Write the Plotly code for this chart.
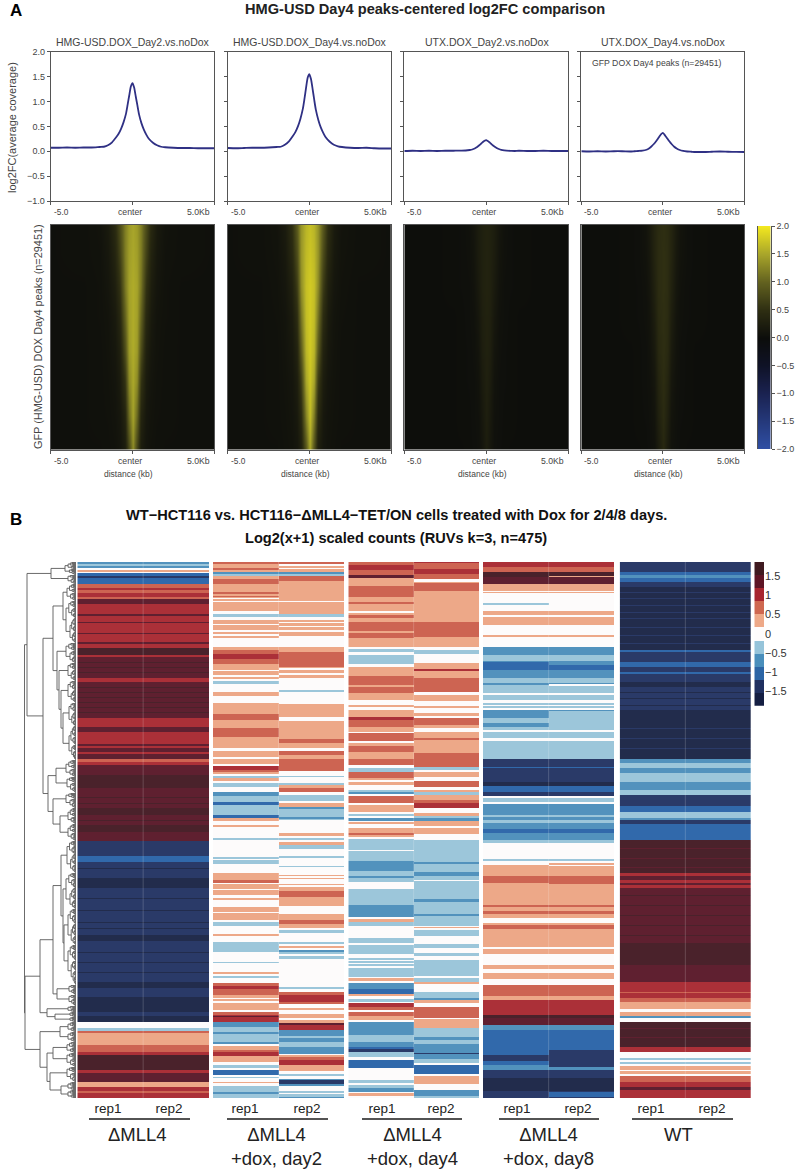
import numpy as np
import plotly.graph_objects as go

W, H = 800, 1172
FONT = "Liberation Sans"
GREY = "#444444"

# ---------- panel A: average profiles ----------
PROFILE_TITLES = ["HMG-USD.DOX_Day2.vs.noDox", "HMG-USD.DOX_Day4.vs.noDox",
                  "UTX.DOX_Day2.vs.noDox", "UTX.DOX_Day4.vs.noDox"]
DISTANCE = [-5, -4.5, -4, -3.5, -3, -2.5, -2, -1.75, -1.5, -1.25, -1, -.85, -.7, -.55, -.4, -.3, -.2, -.1, 0,
            .1, .2, .3, .4, .55, .7, .85, 1, 1.25, 1.5, 1.75, 2, 2.5, 3, 3.5, 4, 4.5, 5]
HMG_DAY2 = [.07, .07, .075, .07, .075, .075, .085, .09, .12, .18, .28, .35, .45, .58, .75, .93, 1.12, 1.3, 1.37,
            1.28, 1.1, .92, .74, .56, .43, .33, .25, .17, .12, .09, .08, .07, .065, .065, .06, .06, .06]
HMG_DAY4 = [.065, .06, .065, .07, .07, .075, .085, .09, .13, .2, .31, .39, .5, .65, .85, 1.05, 1.28, 1.48, 1.55,
            1.45, 1.25, 1.03, .83, .63, .48, .37, .28, .19, .13, .1, .085, .07, .065, .07, .06, .055, .055]
UTX_DAY2 = [.005, .01, .005, .01, .005, .01, .01, .012, .012, .015, .025, .035, .055, .085, .125, .155, .185, .21, .225,
            .205, .18, .15, .12, .085, .055, .035, .022, .012, .008, .005, .01, .005, .005, .01, .005, .005, .005]
UTX_DAY4 = [0, -.005, 0, -.005, 0, 0, -.005, 0, .005, .012, .03, .055, .095, .145, .205, .25, .3, .345, .37,
            .335, .29, .245, .2, .14, .09, .055, .03, .005, -.005, -.01, -.015, -.015, -.01, -.005, -.01, -.012, -.015]
PROFILES = [HMG_DAY2, HMG_DAY4, UTX_DAY2, UTX_DAY4]

# ---------- panel A: density heatmaps (rows: peak rank, columns: distance) ----------
DENS_X = [-5, -3, -2, -1.5, -1.1, -.8, -.5, -.25, 0, .25, .5, .8, 1.1, 1.5, 2, 3, 5]
DENS_RANK = [0, 4000, 8000, 12000, 16500, 20500, 25000, 29451]
DENS_HMG2 = [
 [.05, .06, .09, .2, .45, .8, 1.2, 1.42, 1.5, 1.42, 1.2, .8, .42, .2, .09, .06, .05],
 [.05, .06, .08, .16, .36, .7, 1.2, 1.45, 1.52, 1.45, 1.2, .7, .34, .16, .08, .06, .05],
 [.05, .05, .07, .13, .27, .55, 1.15, 1.48, 1.55, 1.48, 1.15, .55, .26, .13, .07, .05, .05],
 [.04, .05, .07, .10, .2, .42, 1.0, 1.46, 1.55, 1.46, 1.0, .42, .2, .10, .07, .05, .04],
 [.04, .05, .06, .09, .15, .3, .8, 1.42, 1.55, 1.42, .8, .3, .15, .09, .06, .05, .04],
 [.04, .05, .06, .08, .12, .22, .56, 1.3, 1.52, 1.3, .56, .22, .12, .08, .06, .05, .04],
 [.04, .05, .06, .07, .10, .16, .36, 1.08, 1.48, 1.05, .36, .16, .10, .07, .06, .05, .04],
 [.04, .05, .05, .06, .08, .12, .24, .75, 1.3, .72, .24, .12, .08, .06, .05, .05, .04]]
DENS_HMG4 = [
 [.05, .06, .10, .22, .5, .92, 1.38, 1.62, 1.7, 1.62, 1.38, .92, .48, .22, .10, .06, .05],
 [.05, .06, .09, .18, .42, .8, 1.38, 1.66, 1.74, 1.66, 1.38, .8, .4, .18, .09, .06, .05],
 [.05, .05, .08, .14, .3, .65, 1.32, 1.7, 1.78, 1.7, 1.32, .65, .3, .14, .08, .05, .05],
 [.04, .05, .07, .11, .22, .48, 1.15, 1.68, 1.78, 1.68, 1.15, .48, .22, .11, .07, .05, .04],
 [.04, .05, .06, .1, .17, .34, .92, 1.62, 1.78, 1.62, .92, .34, .17, .1, .06, .05, .04],
 [.04, .05, .06, .09, .13, .25, .64, 1.5, 1.75, 1.5, .64, .25, .13, .09, .06, .05, .04],
 [.04, .05, .06, .08, .11, .18, .42, 1.24, 1.7, 1.2, .42, .18, .11, .08, .06, .05, .04],
 [.04, .05, .05, .07, .09, .14, .28, .88, 1.5, .85, .28, .14, .09, .07, .05, .05, .04]]
DENS_UTX2 = [
 [.02, .02, .03, .04, .07, .13, .24, .3, .32, .3, .24, .13, .07, .04, .03, .02, .02],
 [.02, .02, .03, .04, .06, .11, .23, .3, .33, .3, .23, .11, .06, .04, .03, .02, .02],
 [.02, .02, .03, .04, .05, .09, .2, .3, .33, .3, .2, .09, .05, .04, .03, .02, .02],
 [.01, .02, .02, .03, .05, .07, .16, .28, .32, .28, .16, .07, .05, .03, .02, .02, .01],
 [.01, .02, .02, .03, .04, .06, .12, .26, .31, .26, .12, .06, .04, .03, .02, .02, .01],
 [.01, .02, .02, .03, .04, .05, .09, .22, .3, .22, .09, .05, .04, .03, .02, .02, .01],
 [.01, .02, .02, .03, .03, .05, .07, .18, .28, .18, .07, .05, .03, .03, .02, .02, .01],
 [.01, .01, .02, .02, .03, .04, .06, .14, .25, .14, .06, .04, .03, .02, .02, .01, .01]]
DENS_UTX4 = [
 [.02, .02, .03, .05, .1, .2, .36, .46, .5, .46, .36, .2, .1, .05, .03, .02, .02],
 [.02, .02, .03, .05, .09, .17, .35, .47, .52, .47, .35, .17, .09, .05, .03, .02, .02],
 [.02, .02, .03, .04, .07, .14, .31, .47, .52, .47, .31, .14, .07, .04, .03, .02, .02],
 [.01, .02, .03, .04, .06, .11, .26, .45, .51, .45, .26, .11, .06, .04, .03, .02, .01],
 [.01, .02, .02, .03, .05, .09, .2, .42, .5, .42, .2, .09, .05, .03, .02, .02, .01],
 [.01, .02, .02, .03, .05, .07, .15, .36, .48, .36, .15, .07, .05, .03, .02, .02, .01],
 [.01, .02, .02, .03, .04, .06, .11, .3, .45, .3, .11, .06, .04, .03, .02, .02, .01],
 [.01, .01, .02, .02, .03, .05, .08, .22, .4, .22, .08, .05, .03, .02, .02, .01, .01]]
DENSITIES = [DENS_HMG2, DENS_HMG4, DENS_UTX2, DENS_UTX4]
DENS_KEY_TICKS = [-2, -1.5, -1, -.5, 0, .5, 1, 1.5, 2]
DENS_KEY_TEXT = ["−2.0", "−1.5", "−1.0", "−0.5", "0.0", "0.5", "1.0", "1.5", "2.0"]

# ---------- panel B: scaled counts, one (level, row end) run list per column ----------
LEVEL_STEP = 0.34          # one colour bin of the key, in scaled-count units
RUN_TOP = 21               # run ends are read in thirds of a row
L = 810                    # lower half of the heat map starts here
N_ROWS = 536

P1 = [(-2,27),(-1,33),(-2,40),(0,45),(1,50),(0,53),(-3,64),(-4,70),(-3,88),(2,100),(3,106),(2,113),(3,125),(2,131),
      (4,148),(3,178),(4,184),(3,262),(4,268),(3,280),(5,300),(3,306),(4,368),(3,380),(4,490),(3,516),(4,530),(3,566),
      (4,572),(3,580),(4,592),(3,598),(4,612),(2,622),(3,630),(4,660),(5,700),(4,760),(5,780),(4,L),(5,L+20),(4,L+48),
      (-4,L+92),(-3,L+110),(-4,L+160),(-5,L+190),(-4,L+290),(-5,L+295),(-4,L+330),(-5,L+348),(-4,L+470),(-5,L+490),
      (-4,L+515),(-5,L+560),(-4,L+572),(-5,L+590),(0,L+610),(-1,L+617),(2,L+625),(1,L+660),(2,L+680),(3,L+690),
      (5,L+735),(3,L+745),(4,L+770),(1,L+785),(3,L+797),(2,L+803),(3,L+820)]
# single dark or lighter rows inside the long blocks: (level, first, last)
P1_THIN_ROWS = [(5,320,323),(5,335,338),(5,350,353),(5,395,398),(5,410,413),(5,425,428),(5,440,443),(5,455,458),(5,470,473),
                (4,200,203),(4,235,238),(-5,L+130,L+133),(-5,L+220,L+223),(-5,L+255,L+258),(-5,L+310,L+313),(-5,L+380,L+383),
                (-5,L+410,L+413),(-5,L+440,L+443),(5,670,673),(5,690,693),(5,725,728),(5,745,748),(5,795,798)]

P2_REP1 = [(2,27),(1,40),(2,46),(1,52),(-2,56),(-1,64),(1,72),(2,88),(1,112),(2,118),(1,122),(2,127),(1,130),(0,133),
      (1,138),(0,142),(1,168),(0,176),(-1,185),(0,195),(1,208),(0,210),(1,224),(0,230),(1,236),(0,244),(1,250),(0,276),
      (1,284),(2,296),(3,312),(2,326),(1,345),(0,348),(1,360),(0,365),(1,372),(0,378),(-1,386),(0,410),(1,424),(0,445),
      (1,478),(2,496),(1,520),(2,545),(1,580),(0,588),(1,605),(0,612),(1,626),(0,632),(3,644),(2,650),(1,656),(0,662),
      (-1,668),(1,678),(0,683),(-1,695),(0,712),(-2,722),(-1,740),(-3,750),(-1,780),(-3,790),(1,798),(0,810),(1,L+6),
      (0,L+40),(-1,L+46),(0,L+96),(-1,L+102),(0,L+104),(-1,L+118),(0,L+145),(1,L+164),(2,L+175),(0,L+178),(1,L+192),
      (0,L+195),(1,L+210),(0,L+220),(1,L+225),(0,L+245),(1,L+260),(0,L+265),(1,L+285),(0,L+290),(-1,L+302),(0,L+328),
      (1,L+332),(0,L+350),(-1,L+380),(0,L+410),(-1,L+415),(0,L+440),(1,L+446),(0,L+452),(-1,L+458),(0,L+474),(2,L+482),
      (3,L+492),(2,L+510),(1,L+518),(0,L+522),(1,L+528),(0,L+535),(1,L+556),(0,L+562),(2,L+570),(3,L+574),(4,L+577),
      (3,L+590),(-2,L+605),(-1,L+622),(-2,L+628),(-1,L+650),(-2,L+656),(0,L+664),(1,L+675),(2,L+682),(3,L+692),(1,L+712),
      (0,L+720),(-1,L+728),(0,L+736),(-3,L+750),(0,L+756),(-1,L+760),(0,L+770),(1,L+774),(0,L+782),(-1,L+800),(-2,L+808),
      (-1,L+820)]

P2_REP2 = [(2,27),(0,33),(1,38),(0,42),(1,50),(-2,56),(-1,64),(2,78),(1,137),(0,142),(1,178),(-1,186),(0,195),(1,200),
      (0,205),(1,212),(0,216),(1,226),(0,230),(1,242),(0,276),(1,290),(2,335),(1,340),(0,345),(1,355),(0,360),(1,368),
      (0,404),(-1,410),(0,448),(1,486),(0,498),(1,552),(2,565),(1,580),(0,587),(2,600),(1,612),(2,648),(0,662),(-1,666),
      (0,684),(-1,690),(1,698),(2,710),(0,720),(-1,738),(0,745),(1,755),(-2,762),(-1,785),(-2,792),(-1,795),(0,835),(1,840),
      (0,L+4),(1,L+8),(0,L+12),(-1,L+20),(0,L+25),(1,L+35),(-1,L+45),(0,L+68),(-1,L+74),(0,L+96),(-1,L+100),(0,L+124),
      (1,L+128),(0,L+132),(1,L+136),(0,L+150),(1,L+155),(0,L+160),(1,L+172),(2,L+190),(1,L+218),(0,L+242),(1,L+260),
      (2,L+270),(1,L+284),(0,L+290),(-1,L+298),(0,L+325),(-1,L+332),(0,L+338),(1,L+342),(0,L+348),(-2,L+356),(-1,L+362),
      (0,L+366),(-1,L+375),(0,L+460),(-1,L+466),(0,L+474),(2,L+484),(3,L+504),(2,L+510),(0,L+524),(1,L+530),(0,L+542),
      (1,L+552),(0,L+558),(1,L+568),(4,L+575),(3,L+590),(-2,L+606),(-1,L+612),(-2,L+625),(-1,L+640),(-2,L+660),(0,L+664),
      (1,L+670),(2,L+680),(3,L+695),(1,L+712),(0,L+720),(-1,L+728),(0,L+736),(-2,L+740),(-4,L+750),(-2,L+756),(0,L+772),
      (-1,L+778),(0,L+782),(-1,L+790),(-2,L+820)]

P3_REP1 = [(2,30),(3,45),(2,60),(4,68),(1,92),(2,125),(1,140),(2,148),(1,168),(0,174),(1,180),(2,188),(1,200),(2,228),
      (1,234),(2,248),(1,275),(0,282),(-1,290),(0,300),(-1,328),(0,336),(1,362),(2,390),(1,395),(2,415),(1,435),(0,450),
      (1,456),(0,466),(1,485),(3,495),(2,515),(1,530),(0,535),(2,558),(0,565),(1,572),(2,590),(1,612),(2,630),(0,640),
      (-1,650),(2,668),(1,676),(0,680),(1,690),(0,706),(-1,712),(-2,716),(0,722),(2,745),(0,750),(1,772),(0,778),(-1,784),
      (0,790),(-2,798),(0,802),(1,808),(0,L+10),(1,L+24),(2,L+30),(1,L+35),(0,L+42),(-1,L+74),(0,L+78),(-1,L+108),(-2,L+138),
      (-1,L+152),(-2,L+158),(-1,L+170),(0,L+192),(-1,L+240),(-2,L+275),(0,L+282),(1,L+290),(-1,L+304),(0,L+338),(-1,L+354),
      (0,L+360),(-1,L+388),(0,L+398),(-1,L+404),(0,L+408),(-1,L+414),(0,L+418),(-1,L+424),(0,L+430),(-1,L+455),(0,L+460),
      (1,L+468),(0,L+474),(-2,L+492),(-3,L+508),(1,L+514),(0,L+522),(-1,L+530),(0,L+535),(3,L+545),(2,L+555),(0,L+560),
      (2,L+572),(1,L+585),(0,L+590),(-2,L+630),(-1,L+650),(-2,L+665),(-3,L+672),(-4,L+680),(-1,L+695),(0,L+705),(-3,L+730),
      (0,L+766),(-1,L+775),(0,L+780),(-1,L+790),(-2,L+800),(0,L+805),(1,L+812),(0,L+820)]

P3_REP2 = [(3,25),(2,42),(3,58),(2,72),(0,80),(1,85),(2,108),(1,200),(2,245),(1,275),(0,285),(-1,298),(0,324),(1,342),
      (3,348),(1,368),(2,412),(0,420),(1,438),(0,452),(1,458),(0,475),(1,482),(0,490),(2,510),(1,520),(0,530),(1,550),(2,556),
      (1,595),(2,635),(-1,645),(0,650),(1,665),(0,678),(2,695),(0,705),(1,712),(-1,720),(1,735),(2,745),(3,760),(0,774),
      (1,782),(-1,790),(-2,798),(1,812),(0,820),(1,832),(0,L+4),(1,L+8),(0,L+28),(-1,L+92),(-2,L+98),(-1,L+124),(-2,L+135),
      (-1,L+148),(0,L+150),(-1,L+205),(-2,L+212),(-1,L+248),(-2,L+254),(-1,L+284),(0,L+288),(1,L+292),(0,L+298),(-1,L+316),
      (0,L+338),(-1,L+350),(0,L+365),(-1,L+375),(0,L+388),(-1,L+436),(0,L+442),(-1,L+454),(1,L+458),(0,L+484),(-1,L+500),
      (-2,L+508),(1,L+516),(0,L+528),(2,L+560),(0,L+565),(1,L+590),(-1,L+618),(-2,L+626),(-1,L+640),(-2,L+665),(-4,L+670),
      (-2,L+685),(-1,L+697),(0,L+703),(-3,L+730),(0,L+736),(1,L+758),(0,L+776),(-2,L+795),(-1,L+812),(1,L+820)]

P4_REP1 = [(3,36),(2,52),(5,65),(4,88),(1,107),(0,110),(1,114),(0,143),(-1,150),(0,168),(1,180),(0,186),(1,203),(0,205),
      (1,211),(0,240),(1,246),(0,275),(-2,300),(-1,318),(-2,322),(-3,345),(-2,370),(-1,385),(-2,390),(-1,414),(0,420),
      (-1,435),(0,445),(-1,450),(0,453),(-1,460),(0,466),(-2,490),(-1,505),(-2,515),(-1,525),(0,530),(-1,550),(0,558),
      (-1,612),(-4,635),(-3,640),(-4,680),(-5,692),(-3,710),(-4,722),(0,728),(-1,742),(0,748),(-2,780),(-1,785),(-2,795),
      (-1,805),(-2,822),(-3,827),(-2,L+8),(-3,L+15),(-2,L+35),(-1,L+46),(0,L+92),(-1,L+99),(0,L+110),(1,L+145),(2,L+165),
      (1,L+230),(2,L+238),(1,L+248),(2,L+258),(1,L+270),(0,L+284),(1,L+292),(2,L+302),(1,L+358),(0,L+364),(1,L+378),(0,L+410),
      (1,L+422),(0,L+434),(1,L+453),(0,L+472),(2,L+505),(1,L+515),(3,L+560),(5,L+570),(4,L+590),(-2,L+605),(-3,L+680),
      (-4,L+698),(-3,L+712),(-2,L+725),(-4,L+750),(-5,L+790),(-4,L+820)]
# rep2 follows rep1 except for these (level, first, last) stretches
P4_REP2_CHANGES = [(1,62,66),(0,143,150),(0,386,392),(-1,468,490),(-2,322,330),(-1,505,525),(1,L+115,L+120),(0,L+120,L+124),
                   (2,L+170,L+176),(-4,L+675,L+725),(-3,L+800,L+815)]

P5 = [(-4,52),(-3,60),(-2,68),(-3,82),(-4,96),(-5,285),(-3,292),(-4,320),(-3,335),(-4,350),(-3,357),(-4,380),(-5,395),
      (-4,465),(-5,612),(-2,625),(-1,640),(-2,655),(-1,680),(-2,705),(-1,720),(-4,752),(-3,772),(-1,790),(-2,796),(-4,808),
      (-3,L+45),(5,L+145),(3,L+152),(4,L+165),(3,L+175),(4,L+180),(3,L+188),(4,L+355),(5,L+420),(4,L+472),(3,L+500),(2,L+505),
      (3,L+518),(2,L+532),(1,L+552),(0,L+560),(1,L+572),(-2,L+580),(0,L+590),(5,L+665),(3,L+682),(0,L+700),(-1,L+706),(0,L+710),
      (-1,L+716),(0,L+722),(1,L+735),(0,L+738),(1,L+747),(0,L+753),(2,L+770),(3,L+785),(4,L+795),(3,L+820)]
P5_THIN_ROWS = [(-4,110,113),(-4,130,133),(-4,150,153),(-4,170,173),(-4,190,193),(-4,215,218),(-4,240,243),(-4,265,268),
                (-5,410,413),(-5,430,433),(-5,450,453),(-4,520,523),(-4,550,553),(-4,580,583),
                (4,L+70,L+73),(4,L+100,L+103),(4,L+125,L+128),(5,L+210,L+213),(5,L+240,L+243),(5,L+270,L+273),
                (5,L+300,L+303),(5,L+330,L+333),(4,L+610,L+613),(4,L+635,L+638)]

GROUP_LABELS = ["ΔMLL4", "ΔMLL4<br>+dox, day2", "ΔMLL4<br>+dox, day4", "ΔMLL4<br>+dox, day8", "WT"]
REP_LABELS = ["rep1", "rep2"]

# merge tree of the rows: (height, child, child) or a tight cluster (height, rows)
T1 = (25, (11, 13), (8, 9))
R1 = (13, (9, 17), (10, 42))
R2 = (19, (10, 20), (17, (8, 18), (15, (8, 22), (13, (7, 23), (7, 34)))))
D1 = (20, (10, 17), (9, 16))
D2 = (23, (10, 15), (16, (8, 16), (8, 17)))
NV = (15, (9, 32), (13, (10, 36), (12, (8, 36), (8, 40))))
N2 = (19, (7, 10), (7, 11))
N3 = (29, (8, 6), (21, (6, 5), (6, 5)))
B1 = (16, (8, 10), (8, 10))
B2 = (29, (23, (9, 11), (9, 14)), (26, (9, 15), (15, (8, 8), (8, 8))))
TREE = (51.5, (49, T1, (33, (23, R1, R2), (28, D1, D2))),
        (51, (36, (23, NV, N2), N3), (36, B1, B2)))

# ---------- helpers ----------
def xdom(a, b):
    return [a / W, b / W]

def ydom(t, b):
    return [1 - b / H, 1 - t / H]

def column(runs, changes=()):
    vals, start = [], RUN_TOP
    for lvl, end in runs:
        vals += [lvl] * (end - start)
        start = end
    arr = np.array(vals, dtype=float)
    for lvl, a, b in changes:
        arr[a - RUN_TOP:b - RUN_TOP] = lvl
    arr = arr[1::3][:N_ROWS]
    if len(arr) < N_ROWS:
        arr = np.concatenate([arr, np.full(N_ROWS - len(arr), arr[-1])])
    return arr * LEVEL_STEP

def size(node):
    return node[1] if len(node) == 2 else size(node[1]) + size(node[2])

def tree_lines(node, start, xs, ys):
    """Returns (row position, height) of a node and collects its bracket."""
    if len(node) == 2:
        h, n = node
        if n <= 1:
            return start + 0.5, 0.0
        cut = max(1, int(n * (0.42 if int(start) % 2 else 0.58)))
        children = [(h * 0.72, cut), (h * 0.6, n - cut)]
        if n <= 2:
            children = [(0, 1), (0, 1)]
    else:
        h, a, b = node
        children = [a, b]
    pos, off = [], start
    for c in children:
        pos.append(tree_lines(c, off, xs, ys))
        off += size(c)
    xs += [pos[0][1], h, h, pos[1][1], None]
    ys += [pos[0][0], pos[0][0], pos[1][0], pos[1][0], None]
    return (pos[0][0] + pos[1][0]) / 2, h

fig = go.Figure()
layout = {}
annots = []
shapes = []

def txt(x, y, text, size_, color=GREY, bold=False, anchor="center", angle=0):
    annots.append(dict(x=x / W, y=1 - y / H, xref="paper", yref="paper", text=f"<b>{text}</b>" if bold else text,
                       showarrow=False, xanchor=anchor, yanchor="middle", textangle=angle,
                       font=dict(family=FONT, size=size_, color=color)))

PANEL_X = [(50.7, 214.3), (227.7, 391), (404.3, 568), (581.3, 744.3)]
FRAME = "#555555"
DENS_SCALE = [[0, "#2f4fa5"], [0.25, "#1a2250"], [0.375, "#0f1226"], [0.5, "#0c0d0b"], [0.625, "#2e2e12"],
              [0.75, "#62611f"], [0.875, "#a8a52a"], [1, "#f3e81f"]]

for i, (xa, xb) in enumerate(PANEL_X):
    k = i + 1
    fig.add_trace(go.Scatter(x=DISTANCE, y=PROFILES[i], mode="lines", showlegend=False, hoverinfo="skip",
                             line=dict(color="#2f3084", width=1.8, shape="spline", smoothing=0.6),
                             xaxis=f"x{k}", yaxis=f"y{k}"))
    layout[f"xaxis{k}"] = dict(domain=xdom(xa, xb), range=[-5, 5], tickvals=[-5, 0, 5], showticklabels=False, ticks="outside",
                               ticklen=3, tickcolor=FRAME, linecolor=FRAME, linewidth=1, mirror=True, showgrid=False, zeroline=False,
                               anchor=f"y{k}")
    layout[f"yaxis{k}"] = dict(domain=ydom(51.7, 201), range=[-1, 2], tickvals=[-1, -.5, 0, .5, 1, 1.5, 2],
                               ticktext=["−1.0", "−0.5", "0.0", "0.5", "1.0", "1.5", "2.0"],
                               showticklabels=(i == 0), ticks="outside", ticklen=3, tickcolor=FRAME, linecolor=FRAME, linewidth=1,
                               mirror=True, showgrid=False, zeroline=False, anchor=f"x{k}",
                               tickfont=dict(family=FONT, size=9, color=GREY))
    k2 = i + 5
    fig.add_trace(go.Heatmap(x=DENS_X, y=DENS_RANK, z=DENSITIES[i], coloraxis="coloraxis", zsmooth="best", hoverinfo="skip",
                             xaxis=f"x{k2}", yaxis=f"y{k2}"))
    layout[f"xaxis{k2}"] = dict(domain=xdom(xa, xb), range=[-5, 5], tickvals=[-5, 0, 5], showticklabels=False, ticks="outside",
                                ticklen=3, tickcolor=FRAME, linecolor=FRAME, linewidth=1, mirror=True, showgrid=False, zeroline=False,
                                anchor=f"y{k2}")
    layout[f"yaxis{k2}"] = dict(domain=ydom(225, 449.5), range=[29451, 0], showticklabels=False, ticks="", linecolor=FRAME, linewidth=1,
                                mirror=True, showgrid=False, zeroline=False, anchor=f"x{k2}")
    txt((xa + xb) / 2 + 0.5, 42, PROFILE_TITLES[i], 10.5, GREY)
    for y_lab in (212, 461):
        txt(xa + 0.8, y_lab, "-5.0", 8.3, GREY, anchor="left")
        txt((xa + xb) / 2 - 2.5, y_lab, "center", 8.7, GREY)
        txt(xb - 2.5, y_lab, "5.0Kb", 8.7, GREY, anchor="right")
    txt((xa + xb) / 2 - 4, 474, "distance (kb)", 8.5, GREY)

# key of the density heatmaps
fig.add_trace(go.Heatmap(x=[0, 1], y=DENS_KEY_TICKS, z=[[v, v] for v in DENS_KEY_TICKS], coloraxis="coloraxis", zsmooth="best",
                         hoverinfo="skip", xaxis="x16", yaxis="y16"))
layout["xaxis16"] = dict(domain=xdom(757.7, 770.7), range=[0, 1], visible=False, anchor="y16")
layout["yaxis16"] = dict(domain=ydom(226, 449), range=[-2, 2], side="right", anchor="x16", tickvals=DENS_KEY_TICKS, ticktext=DENS_KEY_TEXT,
                         ticks="outside", ticklen=3, tickcolor=FRAME, linecolor=FRAME, linewidth=1, mirror=True, showgrid=False, zeroline=False,
                         tickfont=dict(family=FONT, size=9, color=GREY))

# panel B heat maps
HEAT_X = [(77.3, 209), (213, 344), (348.3, 479), (483, 614.3), (619.7, 751)]
HEAT_COLUMNS = [
    (column(P1, P1_THIN_ROWS), column(P1, P1_THIN_ROWS)),
    (column(P2_REP1), column(P2_REP2)),
    (column(P3_REP1), column(P3_REP2)),
    (column(P4_REP1), column(P4_REP1, P4_REP2_CHANGES)),
    (column(P5, P5_THIN_ROWS), column(P5, P5_THIN_ROWS)),
]
REP_TICKS = [(108, 169), (245, 307), (382, 441), (517, 578), (651, 712)]
UNDERLINES = [(89, 190), (227, 328), (362, 462), (499, 599), (632, 733)]
GROUP_X = [137, 276, 412, 548, 678]

KEY_COLORS = ["#141e42", "#203060", "#2c65a5", "#4a8fbc", "#96c4da", "#fefcfc", "#eea988", "#cf6850", "#a8262f", "#5e1525", "#3f1a20"]
CELL_COLORS = ["#222c4c", "#2a3a68", "#3169ab", "#5292bd", "#9cc6da", "#fdfbfb", "#eda888", "#cd6452", "#ab3038", "#5f2030", "#4a222b"]

def steps(colors):
    out = []
    for i, c in enumerate(colors):
        out += [[i / len(colors), c], [(i + 1) / len(colors), c]]
    return out

ZLIM = 5.5 * LEVEL_STEP
for i, (xa, xb) in enumerate(HEAT_X):
    k = i + 9
    z = np.column_stack(HEAT_COLUMNS[i]).tolist()
    fig.add_trace(go.Heatmap(z=z, x=[0, 1], y=list(range(N_ROWS)), zmin=-ZLIM, zmax=ZLIM, colorscale=steps(CELL_COLORS),
                             showscale=False, hoverinfo="skip", xaxis=f"x{k}", yaxis=f"y{k}"))
    t1, t2 = REP_TICKS[i]
    span = (xb - xa) / 2
    layout[f"xaxis{k}"] = dict(domain=xdom(xa, xb), range=[-0.5, 1.5], showgrid=False, zeroline=False, showline=False,
                               tickvals=[(t1 - xa) / span - 0.5, (t2 - xa) / span - 0.5], ticktext=REP_LABELS, ticks="",
                               tickfont=dict(family=FONT, size=13.5, color="#222222"),
                               anchor=f"y{k}")
    layout[f"yaxis{k}"] = dict(domain=ydom(562, 1098), range=[N_ROWS - 0.5, -0.5], visible=False, anchor=f"x{k}")
    shapes.append(dict(type="line", xref=f"x{k}", yref=f"y{k} domain", x0=0.5, x1=0.5, y0=0, y1=1,
                       line=dict(color="rgba(255,255,255,0.18)", width=1)))
    ua, ub = UNDERLINES[i]
    shapes.append(dict(type="line", xref="paper", yref="paper", x0=ua / W, x1=ub / W, y0=1 - 1119 / H, y1=1 - 1119 / H,
                       line=dict(color="#1a1a1a", width=1.5)))
    annots.append(dict(x=GROUP_X[i] / W, y=1 - 1122 / H, xref="paper", yref="paper", text=GROUP_LABELS[i], showarrow=False,
                       xanchor="center", yanchor="top", align="center",
                       font=dict(family=FONT, size=18.5, color="#222222")))

# dendrogram
dx, dy = [], []
tree_lines(TREE, 0, dx, dy)
fig.add_trace(go.Scatter(x=dx, y=dy, mode="lines", line=dict(color="#5a5a5a", width=0.9), showlegend=False, hoverinfo="skip",
                         xaxis="x14", yaxis="y14"))
layout["xaxis14"] = dict(domain=xdom(20, 76), range=[56, 0], visible=False, anchor="y14")
layout["yaxis14"] = dict(domain=ydom(562, 1098), range=[N_ROWS, 0], visible=False, anchor="x14")

# key of panel B
KEY_LEVELS = [-5, -4, -3, -2, -1, 0, 1, 2, 3, 4, 5]
KEY_Z = [[v * LEVEL_STEP] for v in KEY_LEVELS]
fig.add_trace(go.Heatmap(z=KEY_Z, x=[0], y=[v * LEVEL_STEP for v in KEY_LEVELS], zmin=-ZLIM, zmax=ZLIM, colorscale=steps(KEY_COLORS),
                         showscale=False, hoverinfo="skip", xaxis="x15", yaxis="y15"))
layout["xaxis15"] = dict(domain=xdom(754.3, 764), range=[-0.5, 0.5], visible=False, anchor="y15")
layout["yaxis15"] = dict(domain=ydom(562, 705.7), range=[-ZLIM, ZLIM], side="right", anchor="x15", showgrid=False, zeroline=False, showline=False,
                         tickvals=[1.5, 1, .5, 0, -.5, -1, -1.5], ticktext=["1.5", "1", "0.5", "0", "−0.5", "−1", "−1.5"], ticks="",
                         tickfont=dict(family=FONT, size=11, color="#333333"))

# texts
txt(424.5, 9.5, "HMG-USD Day4 peaks-centered log2FC comparison", 14.6, "#222222", bold=True)
txt(396, 515, "WT−HCT116 vs. HCT116−ΔMLL4−TET/ON cells treated with Dox for 2/4/8 days.", 14.6, "#111111", bold=True)
txt(396, 538, "Log2(x+1) scaled counts (RUVs k=3, n=475)", 14.6, "#111111", bold=True)
txt(8, 10, "A", 17, "#000000", bold=True, anchor="left")
txt(8, 519, "B", 17, "#000000", bold=True, anchor="left")
txt(12, 128, "log2FC(average coverage)", 11, GREY, angle=-90)
txt(38, 337, "GFP (HMG-USD) DOX Day4 peaks (n=29451)", 10.9, GREY, angle=-90)
txt(656.5, 63, "GFP DOX Day4 peaks (n=29451)", 8.7, GREY)

for ax in layout.values():
    ax["automargin"] = False

fig.update_layout(
    width=W, height=H, autosize=False, margin=dict(l=0, r=0, t=0, b=0), paper_bgcolor="white", plot_bgcolor="white",
    showlegend=False, annotations=annots, shapes=shapes,
    coloraxis=dict(cmin=-2, cmax=2, colorscale=DENS_SCALE, showscale=False),
    **layout)
fig.write_html("out.html", config={"displayModeBar": False},
               post_script="document.body.style.margin='0';document.body.style.overflow='hidden';")
